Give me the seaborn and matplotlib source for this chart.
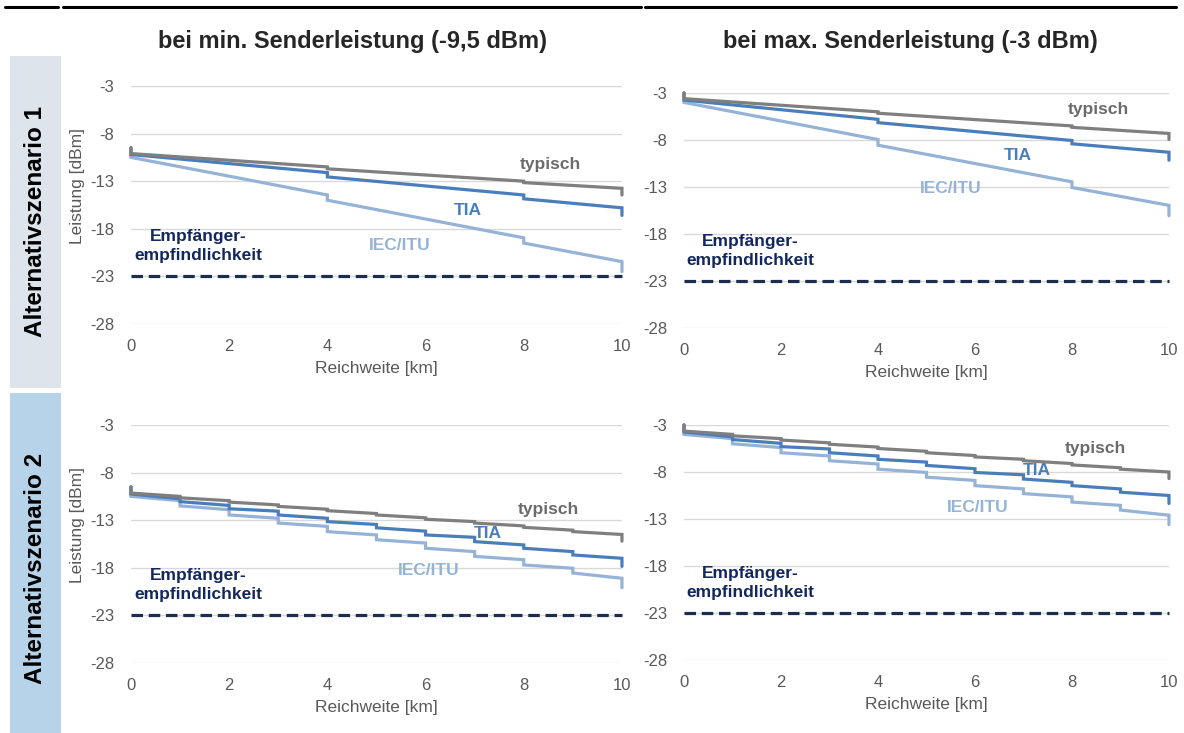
import matplotlib
matplotlib.use("Agg")
import matplotlib.pyplot as plt
from matplotlib.lines import Line2D
from matplotlib.patches import Rectangle
import seaborn as sns
import pandas as pd

# --- data ---
km_s1 = [0, 0, 4, 4, 8, 8, 10, 10]
km_s2 = [0, 0, 1, 1, 2, 2, 3, 3, 4, 4, 5, 5, 6, 6, 7, 7, 8, 8, 9, 9, 10, 10]

# Alternativszenario 1, min. Senderleistung
s1_min_typ = [-9.5, -10.1, -11.5, -11.7, -13.0, -13.15, -13.75, -14.45]
s1_min_tia = [-9.5, -10.2, -12.1, -12.55, -14.45, -14.85, -15.8, -16.6]
s1_min_iec = [-9.5, -10.5, -14.45, -15.0, -18.95, -19.5, -21.45, -22.5]

# Alternativszenario 1, max. Senderleistung
s1_max_typ = [-3.0, -3.6, -5.0, -5.15, -6.5, -6.65, -7.3, -7.95]
s1_max_tia = [-3.0, -3.75, -5.8, -6.15, -8.05, -8.4, -9.3, -10.15]
s1_max_iec = [-3.0, -4.0, -7.95, -8.55, -12.45, -13.05, -14.95, -16.05]

# Alternativszenario 2, min. Senderleistung
s2_min_typ = [-9.5, -10.15, -10.5, -10.65, -10.95, -11.1, -11.4, -11.55, -11.85, -12.0, -12.3,
              -12.45, -12.75, -12.9, -13.15, -13.3, -13.6, -13.75, -14.05, -14.2, -14.5, -15.2]
s2_min_tia = [-9.5, -10.25, -10.75, -11.05, -11.45, -11.8, -12.05, -12.45, -12.8, -13.15, -13.45,
              -13.8, -14.15, -14.55, -14.8, -15.25, -15.6, -15.95, -16.3, -16.65, -17.0, -17.85]
s2_min_iec = [-9.5, -10.5, -10.95, -11.5, -11.9, -12.45, -12.8, -13.3, -13.65, -14.2, -14.55,
              -15.05, -15.4, -15.95, -16.3, -16.8, -17.15, -17.7, -18.05, -18.55, -19.1, -20.1]

# Alternativszenario 2, max. Senderleistung
s2_max_typ = [-3.0, -3.65, -4.0, -4.15, -4.45, -4.6, -4.9, -5.05, -5.35, -5.5, -5.8,
              -5.95, -6.25, -6.4, -6.65, -6.8, -7.1, -7.25, -7.55, -7.7, -8.0, -8.7]
s2_max_tia = [-3.0, -3.75, -4.25, -4.55, -4.95, -5.3, -5.55, -5.95, -6.3, -6.65, -6.95,
              -7.3, -7.65, -8.05, -8.3, -8.75, -9.1, -9.45, -9.8, -10.15, -10.5, -11.35]
s2_max_iec = [-3.0, -4.0, -4.45, -5.0, -5.4, -5.95, -6.3, -6.8, -7.15, -7.7, -8.05,
              -8.55, -8.9, -9.45, -9.8, -10.3, -10.65, -11.2, -11.55, -12.05, -12.6, -13.6]

sensitivity = -23
y_ticks = [-3, -8, -13, -18, -23, -28]
x_ticks = [0, 2, 4, 6, 8, 10]
curves = ["IEC/ITU", "TIA", "typisch"]
col_titles = ["bei min. Senderleistung (-9,5 dBm)", "bei max. Senderleistung (-3 dBm)"]
row_titles = ["Alternativszenario 1", "Alternativszenario 2"]

colors = {"typisch": "#7f7f7f", "TIA": "#4a7ebb", "IEC/ITU": "#95b3d7"}
text_colors = {"typisch": "#6b6b6b", "TIA": "#4a7ebb", "IEC/ITU": "#95b3d7"}
navy = "#1c2d4f"
navy_text = "#12275e"

sns.set_theme(style="white")
plt.rcParams["font.family"] = ["Liberation Sans", "DejaVu Sans"]
plt.rcParams["axes.unicode_minus"] = False

fig = plt.figure(figsize=(11.84, 7.33), dpi=100)

panels = [
    # rect, km, (iec, tia, typ), label positions
    ([0.1106, 0.558, 0.4147, 0.3247], km_s1, (s1_min_iec, s1_min_tia, s1_min_typ),
     {"typisch": (8.55, -11.25), "TIA": (6.86, -16.08), "IEC/ITU": (5.47, -19.75)}, True),
    ([0.5777, 0.5525, 0.4096, 0.3206], km_s1, (s1_max_iec, s1_max_tia, s1_max_typ),
     {"typisch": (8.55, -4.77), "TIA": (6.88, -9.63), "IEC/ITU": (5.49, -13.18)}, False),
    ([0.1106, 0.0955, 0.4147, 0.3247], km_s2, (s2_min_iec, s2_min_tia, s2_min_typ),
     {"typisch": (8.51, -11.92), "TIA": (7.27, -14.43), "IEC/ITU": (6.06, -18.28)}, True),
    ([0.5777, 0.0996, 0.4096, 0.3206], km_s2, (s2_max_iec, s2_max_tia, s2_max_typ),
     {"typisch": (8.49, -5.45), "TIA": (7.27, -7.86), "IEC/ITU": (6.06, -11.76)}, False),
]

# background boxes for row titles
fig.add_artist(Rectangle((0.0085, 0.4707), 0.0431, 0.453, transform=fig.transFigure,
                         facecolor="#dde4eb", edgecolor="none", zorder=0))
fig.add_artist(Rectangle((0.0085, 0.0), 0.0431, 0.4638, transform=fig.transFigure,
                         facecolor="#b7d3e9", edgecolor="none", zorder=0))
fig.text(0.030, 0.698, row_titles[0], rotation=90, ha="center", va="center",
         fontsize=17.5, weight="bold", color="black")
fig.text(0.030, 0.225, row_titles[1], rotation=90, ha="center", va="center",
         fontsize=17.5, weight="bold", color="black")

# column titles
fig.text(0.298, 0.943, col_titles[0], ha="center", va="center", fontsize=17, weight="bold")
fig.text(0.769, 0.943, col_titles[1], ha="center", va="center", fontsize=17, weight="bold")

# top rule
for x0, x1 in [(0.004, 0.049), (0.053, 0.541), (0.545, 0.993)]:
    fig.add_artist(Line2D([x0, x1], [0.9905, 0.9905], transform=fig.transFigure,
                          color="black", lw=2.2))

for rect, km, series, label_pos, show_ylabel in panels:
    ax = fig.add_axes(rect)
    frames = []
    for name, vals in zip(curves, series):
        frames.append(pd.DataFrame({"km": km, "dBm": vals, "Kurve": name}))
    df = pd.concat(frames, ignore_index=True)
    sns.lineplot(data=df, x="km", y="dBm", hue="Kurve", hue_order=curves, palette=colors,
                 sort=False, estimator=None, legend=False, linewidth=2.3, ax=ax)
    for line in ax.get_lines():
        line.set_clip_on(False)
        line.set_solid_joinstyle("miter")
    ax.plot([0, 10], [sensitivity, sensitivity], color=navy, lw=2.3,
            linestyle=(0, (3.6, 1.8)), clip_on=False)

    for name, (tx, ty) in label_pos.items():
        ax.text(tx, ty, name, ha="center", va="center", fontsize=12.5, weight="bold",
                color=text_colors[name])
    ax.text(1.37, -19.82, "Empfänger-\nempfindlichkeit", ha="center", va="center",
            fontsize=12.5, weight="bold", color=navy_text, linespacing=1.35)

    ax.set_xlim(0, 10)
    ax.set_ylim(-28, -3)
    ax.set_xticks(x_ticks)
    ax.set_yticks(y_ticks)
    ax.grid(axis="y", color="#d9d9d9", linewidth=1)
    ax.grid(axis="x", visible=False)
    sns.despine(ax=ax, left=True, bottom=True)
    ax.tick_params(axis="both", length=0, labelsize=12, colors="#595959")
    ax.tick_params(axis="y", pad=12)
    ax.tick_params(axis="x", pad=11)
    ax.set_xlabel("Reichweite [km]", fontsize=12.5, color="#595959", labelpad=5)
    if show_ylabel:
        ax.set_ylabel("Leistung [dBm]", fontsize=12.5, color="#595959")
        ax.yaxis.set_label_coords(-0.094, 0.58)
    else:
        ax.set_ylabel("")

fig.savefig("out.png", dpi=100)
